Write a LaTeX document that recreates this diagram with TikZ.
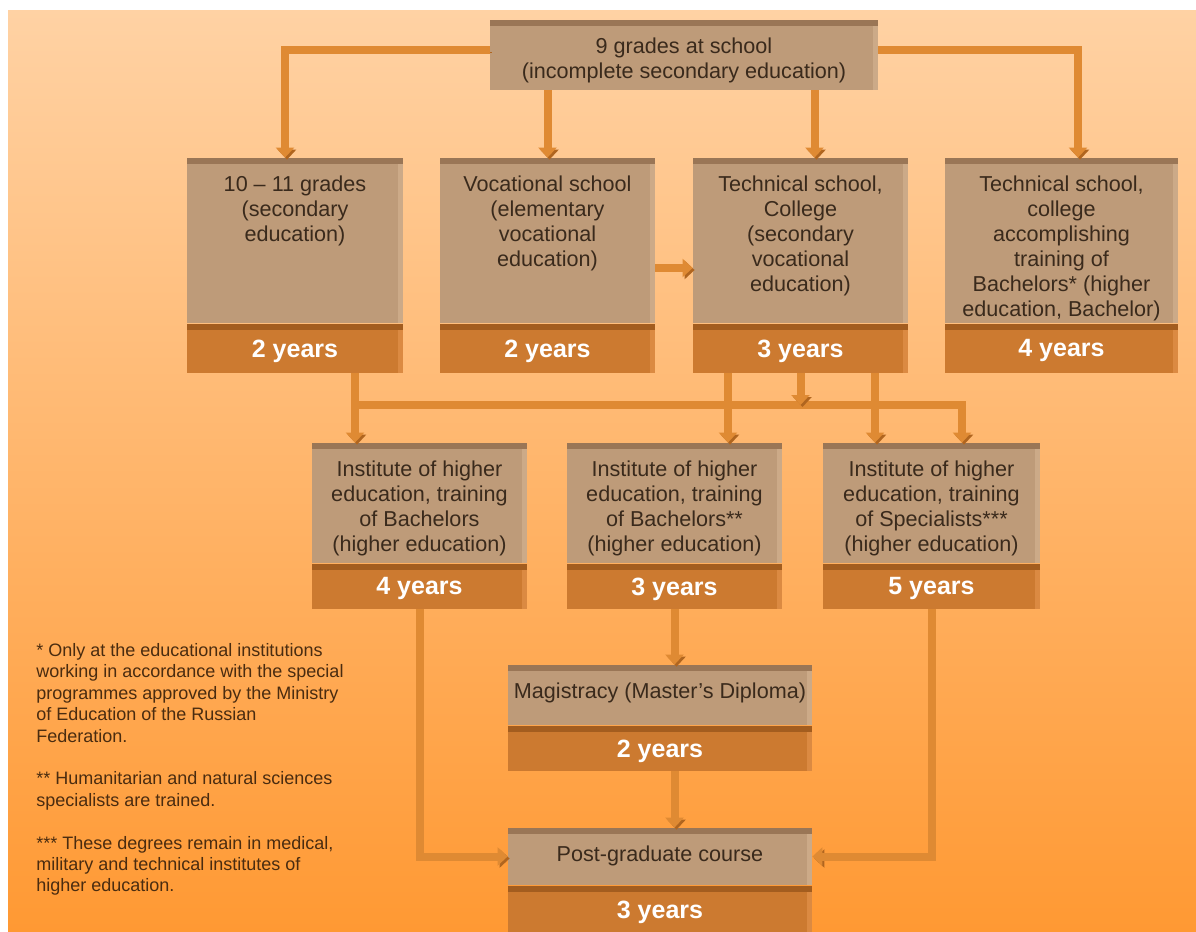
\documentclass[tikz,border=0pt]{standalone}
\usepackage{fontspec}
\setmainfont{Liberation Sans}
\usepackage{xcolor}
\usetikzlibrary{positioning,arrows.meta}

\definecolor{bgTop}{HTML}{FFD2A4}
\definecolor{bgBot}{HTML}{FF9933}
\definecolor{tanC}{HTML}{BE9B79}
\definecolor{tanTop}{HTML}{9A7656}
\definecolor{tanSide}{HTML}{CCAA88}
\definecolor{bandC}{HTML}{CC7A30}
\definecolor{bandTop}{HTML}{A35D1F}
\definecolor{bandSide}{HTML}{DB8A42}
\definecolor{pipeC}{HTML}{DF8A33}
\definecolor{pipeDark}{HTML}{B0651F}
\definecolor{inkC}{HTML}{3A2A1C}
\definecolor{noteC}{HTML}{4A2C10}

\newcommand{\boxfont}{\fontsize{10.8}{12.5}\selectfont}
\newcommand{\boxtext}[3]{\parbox[c][#1][t]{#2}{\centering\rule{0pt}{16.8pt}#3}}

\tikzset{
  bevel/.style 2 args={path picture={
    \fill[#1] (path picture bounding box.north west) rectangle
      ([yshift=-3pt]path picture bounding box.north east);
    \fill[#2] ([xshift=-2.5pt,yshift=-3pt]path picture bounding box.north east) rectangle
      (path picture bounding box.south east);}},
  stage/.style={fill=tanC, bevel={tanTop}{tanSide}, inner sep=0pt, text=inkC, font=\boxfont},
  band/.style={fill=bandC, bevel={bandTop}{bandSide}, inner sep=0pt, text=white, text depth=0pt,
    font=\fontsize{12.5}{14}\selectfont\bfseries},
  pipe/.style={draw=pipeC, line width=4pt, -{Triangle[width=9pt,length=5pt]},
    preaction={draw=pipeDark, transform canvas={shift={(1pt,-1pt)}}}},
  bar/.style={pipe, -}
}

\begin{document}
\begin{tikzpicture}[x=0.5pt,y=-0.5pt]
\useasboundingbox (0,0) rectangle (1196,932);
\fill[white] (0,0) rectangle (1196,932);
\shade[top color=bgTop, bottom color=bgBot] (8,10) rectangle (1196,932);

% first row
\node[stage, minimum width=194pt] (nine) at (684,55)
  {\boxtext{35pt}{188pt}{9 grades at school\\(incomplete secondary education)}};

\node[stage, minimum width=108pt] (ten) at (295,240.5)
  {\boxtext{82.5pt}{104pt}{10 -- 11 grades\\(secondary\\education)}};
\node[band, minimum width=108pt, minimum height=24.5pt, below=0pt of ten] (tenY) {2 years};

\node[stage, minimum width=107.5pt] (voc) at (547.5,240.5)
  {\boxtext{82.5pt}{104pt}{Vocational school\\(elementary\\vocational\\education)}};
\node[band, minimum width=107.5pt, minimum height=24.5pt, below=0pt of voc] (vocY) {2 years};

\node[stage, minimum width=107.5pt] (tech) at (800.5,240.5)
  {\boxtext{82.5pt}{104pt}{Technical school,\\College\\(secondary\\vocational\\education)}};
\node[band, minimum width=107.5pt, minimum height=24.5pt, below=0pt of tech] (techY) {3 years};

\node[stage, minimum width=116.5pt] (bach) at (1061.5,240.5)
  {\boxtext{82.5pt}{113pt}{Technical school,\\college\\accomplishing\\training of\\Bachelors* (higher\\education, Bachelor)}};
\node[band, minimum width=116.5pt, minimum height=24.5pt, below=0pt of bach] (bachY) {4 years};

% second row
\node[stage, minimum width=107.5pt] (instA) at (419.5,503)
  {\boxtext{60pt}{104pt}{Institute of higher\\education, training\\of Bachelors\\(higher education)}};
\node[band, minimum width=107.5pt, minimum height=22.5pt, below=0pt of instA] (instAY) {4 years};

\node[stage, minimum width=107.5pt] (instB) at (674.5,503)
  {\boxtext{60pt}{104pt}{Institute of higher\\education, training\\of Bachelors**\\(higher education)}};
\node[band, minimum width=107.5pt, minimum height=22.5pt, below=0pt of instB] (instBY) {3 years};

\node[stage, minimum width=108.5pt] (instC) at (931.5,503)
  {\boxtext{60pt}{104pt}{Institute of higher\\education, training\\of Specialists***\\(higher education)}};
\node[band, minimum width=108.5pt, minimum height=22.5pt, below=0pt of instC] (instCY) {5 years};

% bottom
\node[stage, minimum width=152pt] (mag) at (660,695)
  {\boxtext{30pt}{148pt}{Magistracy (Master's Diploma)}};
\node[band, minimum width=152pt, minimum height=22.5pt, below=0pt of mag] (magY) {2 years};

\node[stage, minimum width=152pt] (post) at (660,856.5)
  {\boxtext{28.5pt}{148pt}{Post-graduate course}};
\node[band, minimum width=152pt, minimum height=23.5pt, below=0pt of post] (postY) {3 years};

\node[anchor=north west, inner sep=0pt, align=left, text=noteC,
  font=\fontsize{9}{10.7}\selectfont] (notes) at (36,643)
  {* Only at the educational institutions\\
   working in accordance with the special\\
   programmes approved by the Ministry\\
   of Education of the Russian\\
   Federation.\\[10.7pt]
   ** Humanitarian and natural sciences\\
   specialists are trained.\\[10.7pt]
   *** These degrees remain in medical,\\
   military and technical institutes of\\
   higher education.};

\coordinate (barL) at (355,405);
\coordinate (barR) at (962,405);

\draw[pipe] ([yshift=2.5pt]nine.west) -| ([xshift=-5pt]ten.north);
\draw[pipe] (voc.north |- nine.south) -- (voc.north);
\draw[pipe] ([xshift=7pt]tech.north |- nine.south) -- ([xshift=7pt]tech.north);
\draw[pipe] ([yshift=2.5pt]nine.east) -| ([xshift=8.25pt]bach.north);
\draw[pipe] ([yshift=-13.75pt]voc.east) -- ([yshift=-13.75pt]voc.east -| tech.west);

\draw[pipe] (barL) -- (barR) -- (barR |- instC.north);
\draw[pipe] (tenY.south -| barL) -- (barL |- instA.north);
\draw[pipe] ([xshift=-36.25pt]techY.south) -- ([xshift=-36.25pt]techY.south |- instB.north);
\draw[pipe] (techY.south) -- (techY.south |- barL);
\draw[pipe] ([xshift=37.25pt]techY.south) -- ([xshift=37.25pt]techY.south |- instC.north);

\draw[pipe] (instAY.south) |- (post.west);
\draw[pipe] (instBY.south) -- (instBY.south |- mag.north);
\draw[pipe] (magY.south -| instBY.south) -- (instBY.south |- post.north);
\draw[pipe] (instCY.south) |- (post.east);
\end{tikzpicture}
\end{document}
